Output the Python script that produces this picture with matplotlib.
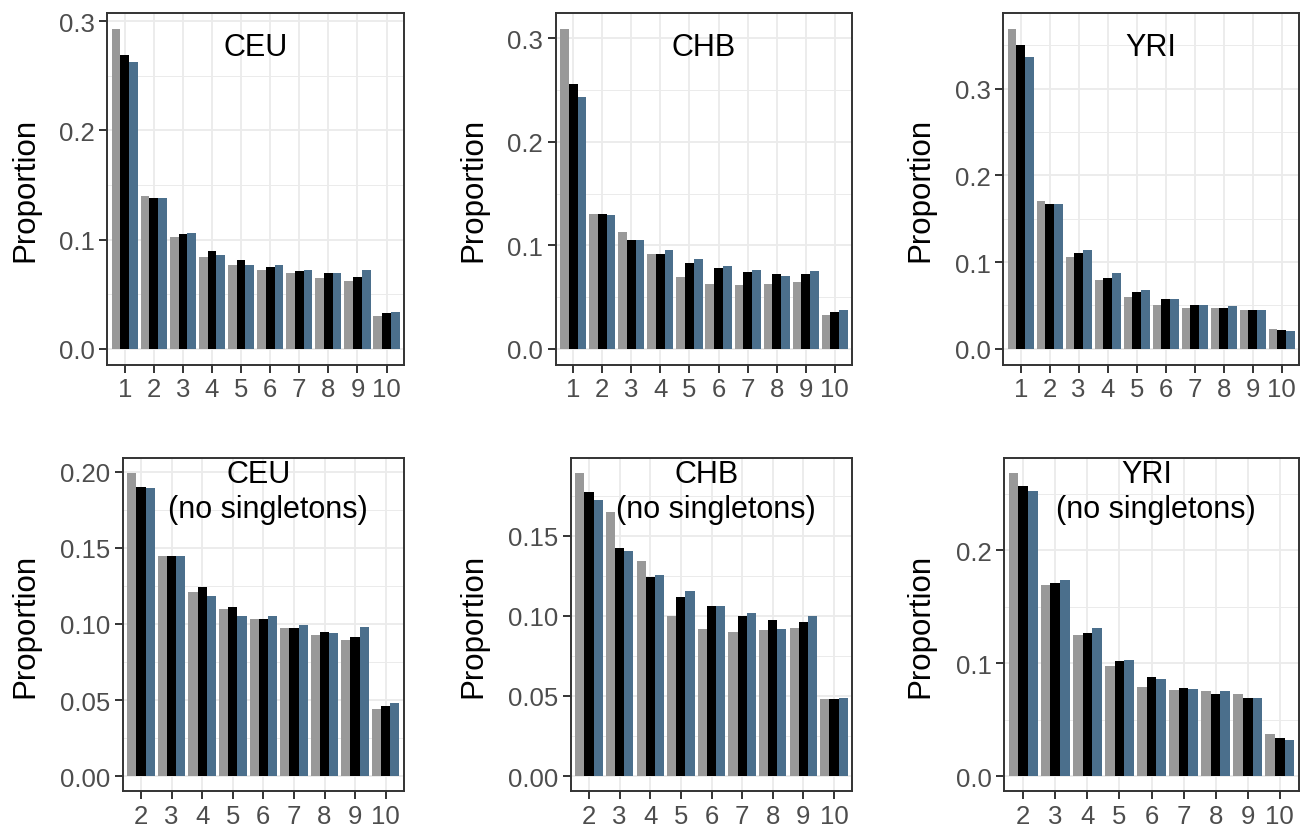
import numpy as np
import matplotlib
matplotlib.use('Agg')
import matplotlib.pyplot as plt
from matplotlib.ticker import MultipleLocator, FormatStrFormatter

plt.rcParams['font.family'] = ['Liberation Sans', 'DejaVu Sans']

# categories
cats_all = [1, 2, 3, 4, 5, 6, 7, 8, 9, 10]
cats_ns = [2, 3, 4, 5, 6, 7, 8, 9, 10]

# all sites
ceu_gray = [0.293, 0.140, 0.102, 0.084, 0.077, 0.072, 0.069, 0.065, 0.062, 0.030]
ceu_black = [0.269, 0.138, 0.105, 0.090, 0.081, 0.075, 0.071, 0.069, 0.066, 0.033]
ceu_blue = [0.263, 0.138, 0.106, 0.086, 0.077, 0.077, 0.072, 0.069, 0.072, 0.034]

chb_gray = [0.309, 0.130, 0.113, 0.092, 0.069, 0.063, 0.062, 0.063, 0.064, 0.033]
chb_black = [0.256, 0.130, 0.105, 0.092, 0.083, 0.078, 0.074, 0.072, 0.072, 0.035]
chb_blue = [0.243, 0.129, 0.105, 0.095, 0.087, 0.080, 0.076, 0.070, 0.075, 0.037]

yri_gray = [0.369, 0.170, 0.106, 0.079, 0.060, 0.050, 0.047, 0.047, 0.045, 0.023]
yri_black = [0.350, 0.167, 0.111, 0.082, 0.066, 0.057, 0.051, 0.047, 0.045, 0.022]
yri_blue = [0.337, 0.167, 0.114, 0.087, 0.068, 0.057, 0.051, 0.049, 0.045, 0.021]

# singletons removed
ceu_ns_gray = [0.199, 0.1445, 0.121, 0.110, 0.103, 0.097, 0.093, 0.0895, 0.044]
ceu_ns_black = [0.190, 0.1445, 0.124, 0.111, 0.103, 0.097, 0.095, 0.0915, 0.046]
ceu_ns_blue = [0.189, 0.1445, 0.118, 0.105, 0.105, 0.099, 0.094, 0.098, 0.048]

chb_ns_gray = [0.189, 0.165, 0.134, 0.100, 0.092, 0.090, 0.091, 0.0925, 0.048]
chb_ns_black = [0.177, 0.142, 0.124, 0.112, 0.106, 0.100, 0.0975, 0.096, 0.048]
chb_ns_blue = [0.172, 0.1405, 0.1255, 0.1155, 0.106, 0.102, 0.092, 0.100, 0.049]

yri_ns_gray = [0.268, 0.169, 0.125, 0.097, 0.079, 0.0765, 0.075, 0.073, 0.037]
yri_ns_black = [0.257, 0.171, 0.127, 0.102, 0.088, 0.078, 0.073, 0.069, 0.034]
yri_ns_blue = [0.252, 0.1735, 0.131, 0.103, 0.086, 0.0775, 0.075, 0.069, 0.032]

colors = ['#999999', '#000000', '#4b6f8c']

W, H = 1300, 829
fig = plt.figure(figsize=(13, 8.29), dpi=100)


def add_panel(box, cats, series, title, subtitle, step, fmt, ylab_x):
    left, top, right, bottom = box
    ax = fig.add_axes([left / W, 1 - bottom / H, (right - left) / W, (bottom - top) / H])
    x = np.array(cats, dtype=float)
    for off, vals, c in zip([-0.3, 0, 0.3], series, colors):
        ax.bar(x + off, vals, width=0.3, color=c, linewidth=0, zorder=2)

    ymax = max(max(s) for s in series)
    ax.set_ylim(-0.05 * ymax, 1.05 * ymax)
    ax.set_xlim(cats[0] - 0.6, cats[-1] + 0.6)
    ax.set_xticks(cats)
    ax.set_xticklabels([str(c) for c in cats])
    ax.yaxis.set_major_locator(MultipleLocator(step))
    ax.yaxis.set_minor_locator(MultipleLocator(step / 2))
    ax.yaxis.set_major_formatter(FormatStrFormatter(fmt))

    ax.set_axisbelow(True)
    ax.grid(which='major', color='#EBEBEB', linewidth=1.3, zorder=0)
    ax.grid(which='minor', axis='y', color='#EBEBEB', linewidth=0.7, zorder=0)
    for s in ax.spines.values():
        s.set_color('#333333')
        s.set_linewidth(1.4)
    ax.tick_params(which='major', length=5.5, width=1.4, color='#333333',
                   labelsize=18.5, labelcolor='#4D4D4D', pad=3.5)
    ax.tick_params(which='minor', length=0)

    if subtitle:
        ax.text(0.483, 0.952, title, transform=ax.transAxes, ha='center', va='center', fontsize=22)
        ax.text(0.515, 0.847, subtitle, transform=ax.transAxes, ha='center', va='center', fontsize=22)
    else:
        ax.text(0.5, 0.903, title, transform=ax.transAxes, ha='center', va='center', fontsize=22)

    fig.text(ylab_x / W, 1 - (top + bottom) / 2 / H, 'Proportion', rotation=90,
             ha='center', va='center', fontsize=22.5)
    return ax


# top row
add_panel((107.3, 14, 404, 365.7), cats_all, [ceu_gray, ceu_black, ceu_blue],
          'CEU', None, 0.1, '%.1f', 25)
add_panel((555.7, 14, 852.3, 365.7), cats_all, [chb_gray, chb_black, chb_blue],
          'CHB', None, 0.1, '%.1f', 473)
add_panel((1003.3, 14, 1299, 365.7), cats_all, [yri_gray, yri_black, yri_blue],
          'YRI', None, 0.1, '%.1f', 920)

# bottom row
add_panel((122.7, 459, 404, 792.3), cats_ns, [ceu_ns_gray, ceu_ns_black, ceu_ns_blue],
          'CEU', '(no singletons)', 0.05, '%.2f', 25)
add_panel((570.7, 459, 852.3, 792.3), cats_ns, [chb_ns_gray, chb_ns_black, chb_ns_blue],
          'CHB', '(no singletons)', 0.05, '%.2f', 473)
add_panel((1004, 459, 1299, 792.3), cats_ns, [yri_ns_gray, yri_ns_black, yri_ns_blue],
          'YRI', '(no singletons)', 0.1, '%.1f', 920)

fig.savefig('out.png', dpi=100, facecolor='white')
